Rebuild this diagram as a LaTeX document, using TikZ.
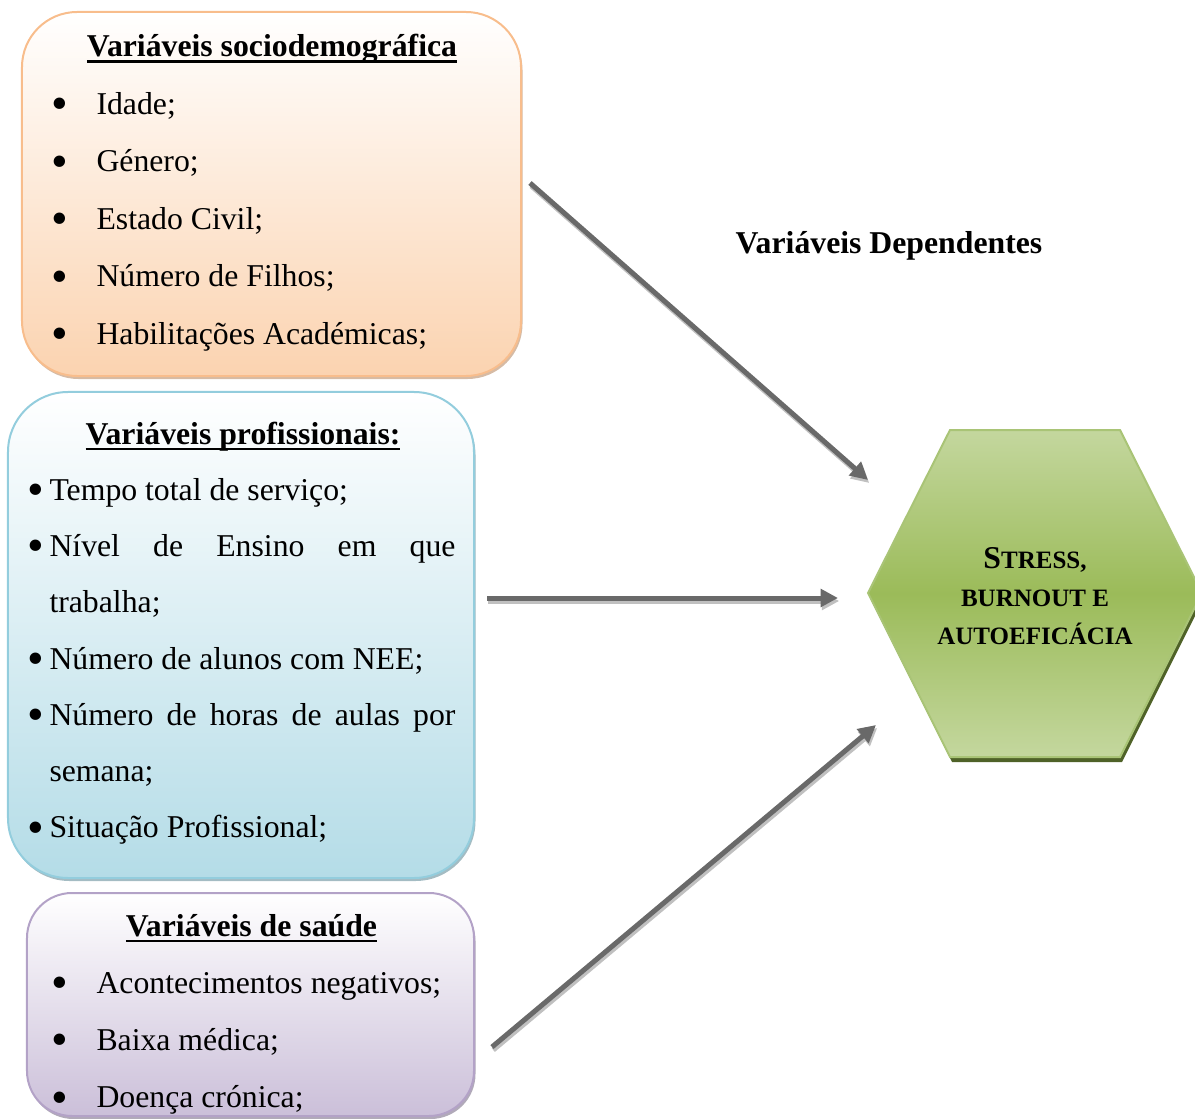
\documentclass[tikz,border=0pt]{standalone}
\usepackage{fontspec}
\setmainfont{Liberation Serif}
\usetikzlibrary{arrows.meta,shadows}

\definecolor{sociofill}{HTML}{FBD3B0}
\definecolor{socioline}{HTML}{F8BD8C}
\definecolor{proffill}{HTML}{B4DCE7}
\definecolor{profline}{HTML}{93CDDD}
\definecolor{saudefill}{HTML}{CBBFD9}
\definecolor{saudeline}{HTML}{B3A2C7}
\definecolor{hexdark}{HTML}{9BBB59}
\definecolor{hexlight}{HTML}{C4D79E}
\definecolor{hexline}{HTML}{A9C476}
\definecolor{hexshadow}{HTML}{4F6228}
\definecolor{setacinza}{HTML}{696969}
\definecolor{setasombra}{HTML}{C0C0C0}

% sublinhado a la Word (atravessa as descendentes)
\newcommand{\sublinhado}[1]{\setbox0\hbox{#1}\rlap{\rule[-2.4pt]{\wd0}{1pt}}\box0}
\newcommand{\bola}{\raisebox{-0.17em}{\scalebox{1.5}{\textbullet}}}
\newcommand{\bolinha}[1]{\noindent\makebox[18pt][l]{\bola}#1\par}
\newcommand{\ponto}{\makebox[7.6pt][l]{\hspace*{-1pt}\bola}}

\tikzset{
  caixa/.style={rectangle, line width=0.8pt, inner sep=0pt},
  seta/.style={line width=2pt, draw=setacinza,
    -{Triangle[length=7pt,width=7pt]}},
  setasombra/.style={seta, draw=setasombra,
    transform canvas={shift={(0.5pt,-1.2pt)}}},
}

\begin{document}
\begin{tikzpicture}[x=0.4pt,y=-0.4pt]
\useasboundingbox (0,0) rectangle (1195,1119);

% caixas
\node [caixa, draw=socioline, top color=white, bottom color=sociofill,
  rounded corners=22pt, minimum width=199.6pt, minimum height=145.6pt,
  drop shadow={shadow xshift=0.6pt, shadow yshift=-1.2pt,
    fill=socioline!75!black, opacity=0.6}] (socio) at (271.5,194) {};
\node [caixa, draw=profline, top color=white, bottom color=proffill,
  rounded corners=24pt, minimum width=186.4pt, minimum height=194.4pt,
  drop shadow={shadow xshift=0.6pt, shadow yshift=-1.2pt,
    fill=profline!70!black, opacity=0.6}] (prof) at (241,635) {};
\node [caixa, draw=saudeline, top color=white, bottom color=saudefill,
  rounded corners=18pt, minimum width=178.8pt, minimum height=89.2pt,
  drop shadow={shadow xshift=0.6pt, shadow yshift=-1.2pt,
    fill=saudeline!70!black, opacity=0.6}] (saude) at (250.5,1004.5) {};

% textos das caixas
\node [anchor=base west, inner sep=0pt] (sociotxt) at (51,57) {%
\begin{minipage}[t]{176.4pt}%
\fontsize{12.7}{23}\selectfont
{\centering\textbf{\sublinhado{Variáveis sociodemográfica}}\par}
\bolinha{Idade;}
\bolinha{Género;}
\bolinha{Estado Civil;}
\bolinha{Número de Filhos;}
\bolinha{Habilitações Académicas;}
\end{minipage}%
};

\node [anchor=base west, inner sep=0pt] (proftxt) at (30,444) {%
\begin{minipage}[t]{170pt}%
\fontsize{12.7}{22.5}\selectfont
{\centering\textbf{\sublinhado{Variáveis profissionais:}}\par}
\noindent\ponto Tempo total de serviço;\par
\noindent\ponto\makebox[162.4pt][s]{Nível de Ensino em que}\par
\noindent\hspace*{7.6pt}trabalha;\par
\noindent\ponto Número de alunos com NEE;\par
\noindent\ponto\makebox[162.4pt][s]{Número de horas de aulas por}\par
\noindent\hspace*{7.6pt}semana;\par
\noindent\ponto Situação Profissional;\par
\end{minipage}%
};

\node [anchor=base west, inner sep=0pt] (saudetxt) at (51,936) {%
\begin{minipage}[t]{160pt}%
\fontsize{12.7}{22.9}\selectfont
{\centering\textbf{\sublinhado{Variáveis de saúde}}\par}
\bolinha{Acontecimentos negativos;}
\bolinha{Baixa médica;}
\bolinha{Doença crónica;}
\end{minipage}%
};

% hexagono
\fill [hexshadow, shift={(2,5)}] (950,430) -- (1120,430) -- (1202,593)
  -- (1120,757) -- (950,757) -- (868,593) -- cycle;
\shade [top color=hexlight, bottom color=hexlight, middle color=hexdark,
  draw=hexline, line width=0.8pt] (950,430) -- (1120,430) -- (1202,593)
  -- (1120,757) -- (950,757) -- (868,593) -- cycle;
\node [align=center, font={\fontsize{10}{15.2}\selectfont\bfseries}]
  (nucleo) at (1035,596)
  {{\fontsize{12.7}{15.2}\selectfont S}TRESS,\\BURNOUT E\\AUTOEFICÁCIA};

\node [font={\fontsize{12.7}{15}\selectfont\bfseries}] (dep) at (889,246)
  {Variáveis Dependentes};

% setas
\coordinate (s1) at (530,183);
\coordinate (t1) at (868,480);
\coordinate (s2) at (487,598);
\coordinate (t2) at (838,598);
\coordinate (s3) at (492,1047);
\coordinate (t3) at (876,725);
\foreach \a/\b in {s1/t1,s2/t2,s3/t3}
  \draw [setasombra] (\a) -- (\b);
\foreach \a/\b in {s1/t1,s2/t2,s3/t3}
  \draw [seta] (\a) -- (\b);
\end{tikzpicture}
\end{document}
